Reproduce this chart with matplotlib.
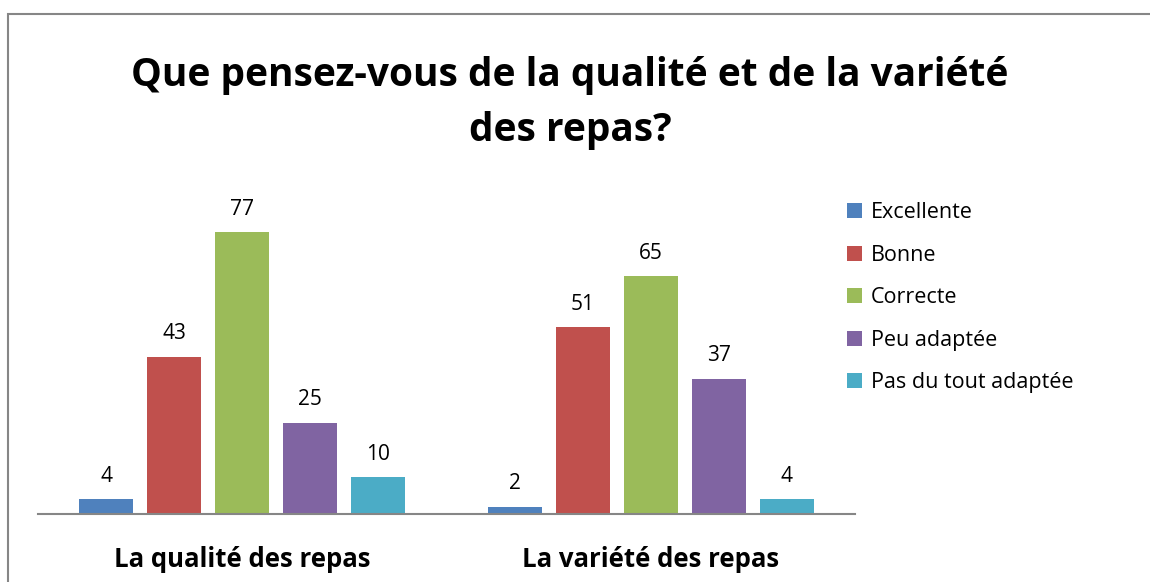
import matplotlib.pyplot as plt
import numpy as np
from matplotlib.patches import Rectangle

#data
categories = ['La qualité des repas', 'La variété des repas']
series = ['Excellente', 'Bonne', 'Correcte', 'Peu adaptée', 'Pas du tout adaptée']
values = {
    'Excellente': [4, 2],
    'Bonne': [43, 51],
    'Correcte': [77, 65],
    'Peu adaptée': [25, 37],
    'Pas du tout adaptée': [10, 4],
}
colors = ['#4F81BD', '#C0504D', '#9BBB59', '#8064A2', '#4BACC6']

plt.rcParams['font.family'] = ['Open Sans', 'DejaVu Sans']

fig = plt.figure(figsize=(11.5, 5.82), dpi=100)
ax = fig.add_axes([38/1150, 1-514/582, (855-38)/1150, (514-203)/582])

x = np.arange(len(categories))
width = 0.1324
step = 0.1667
for i, (name, col) in enumerate(zip(series, colors)):
    bars = ax.bar(x + (i-2)*step, values[name], width, color=col, label=name)
    ax.bar_label(bars, padding=9, fontsize=15)

ax.set_xlim(-0.5, 1.5)
ax.set_ylim(0, 85)
ax.set_yticks([])
ax.set_xticks(x)
ax.set_xticklabels(categories, fontsize=18.5, fontweight='bold')
ax.tick_params(axis='x', length=0, pad=23)
for s in ['top', 'right', 'left']:
    ax.spines[s].set_visible(False)
ax.spines['bottom'].set_color('#868686')
ax.spines['bottom'].set_linewidth(1.5)

#legend on the right
fig.legend(loc='upper left', bbox_to_anchor=(828/1150, 1-183/582), frameon=False,
           fontsize=15.5, handlelength=0.7, handleheight=0.7, handletextpad=0.4,
           labelspacing=1.0)

fig.suptitle('Que pensez-vous de la qualité et de la variété\ndes repas?',
             fontsize=28, fontweight='bold', x=570/1150, y=1-56/582, va='top',
             linespacing=1.55)

#outer frame
fig.add_artist(Rectangle((8/1150, -0.05), 1.2, 1-14/582+0.05, transform=fig.transFigure,
                         fill=False, edgecolor='#868686', linewidth=1.5))

plt.savefig('out.png', dpi=100)
